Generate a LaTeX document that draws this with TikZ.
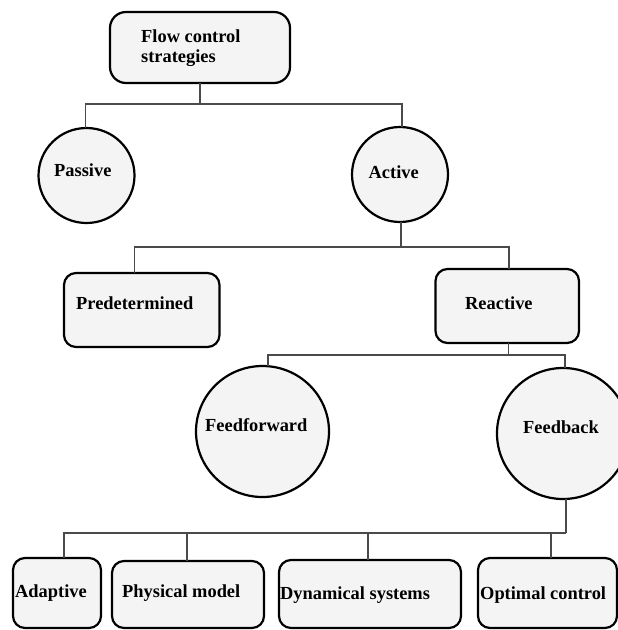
\documentclass[tikz,border=0pt]{standalone}
\usepackage{fontspec}
\setmainfont{Liberation Serif}
\usetikzlibrary{shapes.geometric}
\definecolor{boxfill}{HTML}{F4F4F4}
\definecolor{linecol}{HTML}{4A4A4A}
\begin{document}
\begin{tikzpicture}[x=1pt,y=-1pt,
  rbox/.style={draw=black, line width=2.2pt, fill=boxfill, rounded corners=12pt, inner sep=0pt, outer sep=0pt},
  oval/.style={ellipse, draw=black, line width=2.2pt, fill=boxfill, inner sep=0pt, outer sep=0pt},
  lbl/.style={font=\bfseries\fontsize{18.4}{20}\selectfont, inner sep=0pt, anchor=mid west},
  conn/.style={draw=linecol, line width=1.2pt}]
\fill[white] (0,0) rectangle (618,630);
\clip (0,0) rectangle (618,630);

% shapes
\node[rbox, rounded corners=16pt, minimum width=180pt, minimum height=71pt] (top) at (200,47.5) {};
\node[oval, minimum width=96pt, minimum height=95pt] (passive) at (86.5,175.5) {};
\node[oval, minimum width=96pt, minimum height=95pt] (active) at (400,174.5) {};
\node[rbox, minimum width=155.5pt, minimum height=74pt] (pred) at (141.75,310) {};
\node[rbox, minimum width=143.5pt, minimum height=74pt] (react) at (507.25,306) {};
\node[oval, minimum width=133pt, minimum height=131pt] (ff) at (262.5,431.5) {};
\node[oval, minimum width=132pt, minimum height=131pt] (fb) at (563,433.5) {};
\node[rbox, minimum width=88pt, minimum height=70pt] (adapt) at (57,593) {};
\node[rbox, minimum width=152pt, minimum height=67pt] (phys) at (188,594.5) {};
\node[rbox, minimum width=182pt, minimum height=68pt] (dyn) at (370,594) {};
\node[rbox, minimum width=139pt, minimum height=70pt] (opt) at (547.5,593) {};

% labels
\node[lbl, align=left, anchor=north west] (t-top) at (141,29.6) {Flow control\\strategies};
\node[lbl] (t-passive) at (54,174) {Passive};
\node[lbl] (t-active) at (368.5,176) {Active};
\node[lbl] (t-pred) at (76,307) {Predetermined};
\node[lbl] (t-react) at (465,307) {Reactive};
\node[lbl] (t-ff) at (205,429) {Feedforward};
\node[lbl] (t-fb) at (523,431) {Feedback};
\node[lbl] (t-adapt) at (15,595) {Adaptive};
\node[lbl] (t-phys) at (122,595) {Physical model};
\node[lbl] (t-dyn) at (280,597) {Dynamical systems};
\node[lbl] (t-opt) at (480,597) {Optimal control};

% connectors
\coordinate (j1) at (200,104);
\coordinate (j2) at (401,247);
\coordinate (j3) at (508.5,355);
\coordinate (j4) at (566,533);
\draw[conn] (top.south) -- (j1);
\draw[conn] ([xshift=-1pt]passive.north) |- (j1) -| ([xshift=2pt]active.north);
\draw[conn] (active.south -| j2) -- (j2);
\draw[conn] ([xshift=-7pt]pred.north) |- (j2) -| ([xshift=1.75pt]react.north);
\draw[conn] (react.south -| j3) -- (j3);
\draw[conn] ([xshift=5.5pt]ff.north) |- (j3) -| ([xshift=2pt]fb.north);
\draw[conn] (fb.south -| j4) -- (j4);
\draw[conn] ([xshift=7pt]adapt.north) |- (j4);
\draw[conn] ([xshift=-1pt]phys.north) -- ([xshift=-1pt]phys.north |- j4);
\draw[conn] ([xshift=-2pt]dyn.north) -- ([xshift=-2pt]dyn.north |- j4);
\draw[conn] ([xshift=3.5pt]opt.north) -- ([xshift=3.5pt]opt.north |- j4);
\end{tikzpicture}
\end{document}
